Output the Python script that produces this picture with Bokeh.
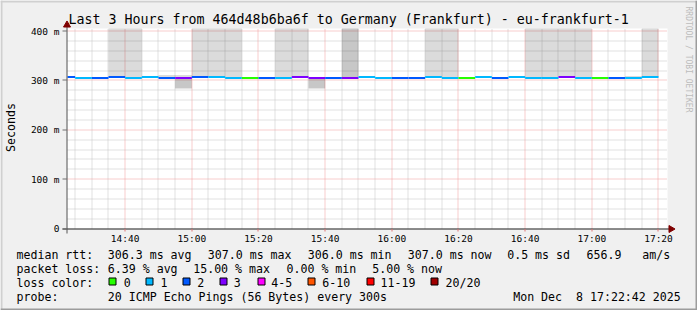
import math
from bokeh.plotting import figure
from bokeh.models import Range1d, ColumnDataSource
from bokeh.core.properties import value
from bokeh.embed import file_html
from bokeh.resources import INLINE

# ---------------- data ----------------
TITLE = "Last 3 Hours from 464d48b6ba6f to Germany (Frankfurt) - eu-frankfurt-1"
START = "14:22:42"
END = "17:22:42"
STEP_MIN = 5
seg_end = ["14:25", "14:30", "14:35", "14:40", "14:45", "14:50", "14:55", "15:00",
           "15:05", "15:10", "15:15", "15:20", "15:25", "15:30", "15:35", "15:40",
           "15:45", "15:50", "15:55", "16:00", "16:05", "16:10", "16:15", "16:20",
           "16:25", "16:30", "16:35", "16:40", "16:45", "16:50", "16:55", "17:00",
           "17:05", "17:10", "17:15", "17:20"]
median_ms = [307, 305, 305, 307, 305, 307, 305, 305, 307, 307, 305, 305,
             305, 305, 307, 305, 305, 305, 307, 305, 305, 305, 307, 305,
             305, 307, 305, 307, 305, 305, 307, 305, 305, 305, 305, 307]
loss_count = [2, 1, 2, 2, 1, 1, 2, 3, 2, 1, 1, 0,
              2, 1, 3, 3, 2, 3, 1, 1, 2, 2, 1, 1,
              0, 1, 2, 1, 1, 1, 3, 1, 0, 2, 1, 1]
# upper smoke (max ping), None = no smoke above the median
smoke_top = [None, None, None, 420, 420, None, 311, 311, 420, 420, 420, None,
             None, 420, 420, None, None, 420, None, None, None, None, 420, 420,
             None, None, None, None, 420, 420, 420, 420, None, None, 309, 420]
smoke_top_dark = [False] * 17 + [True] + [False] * 18
# lower smoke (min ping), None = no smoke below the median
smoke_bottom = [None] * 7 + [284] + [None] * 7 + [284] + [None] * 20

x_ticks = ["14:40", "15:00", "15:20", "15:40", "16:00", "16:20", "16:40", "17:00", "17:20"]
y_ticks = [0, 100, 200, 300, 400]
y_tick_labels = ["0", "100 m", "200 m", "300 m", "400 m"]
Y_LABEL = "Seconds"

loss_colors = ["#26ff00", "#00b8ff", "#0059ff", "#7e00ff", "#ff00ff", "#ff5500", "#ff0000", "#a00000"]
loss_labels = ["0", "1", "2", "3", "4-5", "6-10", "11-19", "20/20"]
loss_color_of_count = {0: 0, 1: 1, 2: 2, 3: 3, 4: 4, 5: 4}

rtt_stats = ["median rtt:", "306.3 ms avg", "307.0 ms max", "306.0 ms min",
             "307.0 ms now", "0.5 ms sd", "656.9", "am/s"]
loss_stats = ["packet loss:", "6.39 % avg", "15.00 % max", "0.00 % min", "5.00 % now"]
LOSS_COLOR_HEAD = "loss color:"
probe_text = ["probe:", "20 ICMP Echo Pings (56 Bytes) every 300s"]
DATE_PARTS = ["Mon Dec", "8 17:22:42 2025"]   # "Mon Dec  8 17:22:42 2025"
WATERMARK = "RRDTOOL / TOBI OETIKER"


def hm(s):
    parts = [float(v) for v in s.split(":")]
    m = parts[0] * 60 + parts[1]
    if len(parts) > 2:
        m += parts[2] / 60.0
    return m

# ---------------- layout / style ----------------
FONT = "DejaVu Sans Mono"
W, H = 697, 310
PX_L, PX_R, PX_T, PX_B = 67, 667, 28, 228      # graph area in canvas pixels
YMAX = 405.4
t0, t1 = hm(START), hm(END)
SX = (t1 - t0) / (PX_R - PX_L)
SY = YMAX / (PX_B - PX_T)


def X(px):   # canvas pixel -> x data (layout helper)
    return t0 + (px - PX_L) * SX


def Y(py):   # canvas pixel -> y data (layout helper)
    return (PX_B - py) * SY


def crisp_x(t):  # snap a vertical 1px line to a pixel centre
    return X(math.floor(PX_L + (t - t0) / SX) + 0.5)


def crisp_y(v):  # snap a horizontal 1px line to a pixel centre
    return Y(math.floor(PX_B - v / SY) + 0.5)


p = figure(width=W, height=H, output_backend="svg", toolbar_location=None,
           x_range=Range1d(X(0), X(W)), y_range=Range1d(Y(H), Y(0)),
           x_axis_location=None, y_axis_location=None,
           min_border=0, min_border_left=0, min_border_right=0,
           min_border_top=0, min_border_bottom=0,
           background_fill_color="#f0f0f0", border_fill_color="#f0f0f0",
           outline_line_color=None)
for g in p.grid:
    g.visible = False

# image frame (3D shade)
p.quad(left=[X(0), X(0)], right=[X(W), X(2)], top=[Y(0), Y(0)], bottom=[Y(2), Y(H)],
       fill_color="#d0d0d0", line_color=None)
p.quad(left=[X(0), X(W - 2)], right=[X(W), X(W)], top=[Y(H - 2), Y(0)], bottom=[Y(H), Y(H)],
       fill_color="#9c9c9c", line_color=None)

# white graph canvas
p.quad(left=[t0], right=[t1], bottom=[0], top=[YMAX], fill_color="#ffffff", line_color=None)

# grid (dotted)
xt = [hm(s) for s in x_ticks]
x_minor = []
k = xt[0]
while k - 5 > t0:
    k -= 5
while k < t1:
    if all(abs(k - v) > 1e-6 for v in xt):
        x_minor.append(k)
    k += 5
y_minor = [v for v in range(0, 401, 20) if v % 100 != 0]
GRID_MINOR = "#c2c2c2"
GRID_MAJOR = "#f09a9a"
xm = [crisp_x(v) for v in x_minor]
p.segment(x0=xm, x1=xm, y0=[0] * len(xm), y1=[YMAX] * len(xm),
          line_color=GRID_MINOR, line_dash="1 1", line_width=1)
ym = [crisp_y(v) for v in y_minor]
p.segment(x0=[t0] * len(ym), x1=[t1] * len(ym), y0=ym, y1=ym,
          line_color=GRID_MINOR, line_dash="1 1", line_width=1)
xM = [crisp_x(v) for v in xt if v < t1]
p.segment(x0=xM, x1=xM, y0=[0] * len(xM), y1=[YMAX] * len(xM),
          line_color=GRID_MAJOR, line_dash="1 1", line_width=1)
yM = [crisp_y(v) for v in y_ticks if v > 0]
p.segment(x0=[t0] * len(yM), x1=[t1] * len(yM), y0=yM, y1=yM,
          line_color=GRID_MAJOR, line_dash="1 1", line_width=1)

# segments
ends = [hm(s) for s in seg_end]
lefts = [max(t0, e - STEP_MIN) for e in ends]

# smoke
up = dict(l=[], r=[], b=[], t=[], a=[])
for l, r, m, top, dark in zip(lefts, ends, median_ms, smoke_top, smoke_top_dark):
    if top is not None:
        up["l"].append(l); up["r"].append(r); up["b"].append(m)
        up["t"].append(min(top, YMAX))
        up["a"].append(0.22 if dark else 0.14)
p.quad(left="l", right="r", bottom="b", top="t", fill_color="#000000",
       fill_alpha="a", line_color=None, source=ColumnDataSource(up))
dn = dict(l=[], r=[], b=[], t=[])
for l, r, m, bot in zip(lefts, ends, median_ms, smoke_bottom):
    if bot is not None:
        dn["l"].append(l); dn["r"].append(r); dn["b"].append(bot); dn["t"].append(m)
p.quad(left="l", right="r", bottom="b", top="t", fill_color="#000000",
       fill_alpha=0.22, line_color=None, source=ColumnDataSource(dn))

# median line, coloured by loss (2 px thick)
med = ColumnDataSource(dict(
    l=lefts, r=ends,
    b=[m - SY for m in median_ms], t=[m + SY for m in median_ms],
    c=[loss_colors[loss_color_of_count[n]] for n in loss_count]))
p.quad(left="l", right="r", bottom="b", top="t", fill_color="c", line_color=None, source=med)

# axes lines, ticks, arrows
p.segment(x0=[X(62)], x1=[X(670)], y0=[Y(228.5)], y1=[Y(228.5)], line_color="#202020", line_width=1)
p.segment(x0=[X(66.5)], x1=[X(66.5)], y0=[Y(233)], y1=[Y(25)], line_color="#555555", line_width=1)
yt = [crisp_y(v) for v in y_ticks]
p.segment(x0=[X(62)] * len(yt), x1=[X(66.5)] * len(yt), y0=yt, y1=yt,
          line_color="#707070", line_width=1)
xtc = [crisp_x(v) for v in xt]
p.segment(x0=xtc, x1=xtc, y0=[Y(228.5)] * len(xtc), y1=[Y(231)] * len(xtc),
          line_color="#e07070", line_width=1)
p.scatter(x=[X(66.5)], y=[Y(24.5)], marker="triangle", size=7,
          fill_color="#7f0000", line_color="#7f0000")
p.scatter(x=[X(670.5)], y=[Y(228.5)], marker="triangle", size=7, angle=-math.pi / 2,
          fill_color="#7f0000", line_color="#7f0000")

# tick labels
p.text(x=xt, y=[Y(238)] * len(xt), text=x_ticks, text_font=value(FONT),
       text_font_size=value("9.5px"), text_align="center", text_baseline="middle",
       text_color="#000000")
p.text(x=[X(59)] * len(y_ticks), y=y_ticks, text=y_tick_labels, text_font=value(FONT),
       text_font_size=value("9.5px"), text_align="right", text_baseline="middle",
       text_color="#000000")

# title, axis label, watermark
p.text(x=[X(68)], y=[Y(19)], text=[TITLE], text_font=value(FONT),
       text_font_size=value("13.3px"), text_align="left", text_baseline="middle",
       text_color="#000000")
p.text(x=[X(10)], y=[Y(127)], text=[Y_LABEL], angle=math.pi / 2, text_font=value(FONT),
       text_font_size=value("11.6px"), text_align="center", text_baseline="middle",
       text_color="#000000")
p.text(x=[X(688)], y=[Y(59)], text=[WATERMARK], angle=-math.pi / 2, text_font=value(FONT),
       text_font_size=value("8px"), text_align="center", text_baseline="middle",
       text_color="#bcbcbc")

# legend / statistics rows
rows_text, rows_x, rows_y = [], [], []
for t, px in zip(rtt_stats, [16, 107.3, 207.3, 307.3, 407.3, 506.7, 586, 641.7]):
    rows_text.append(t); rows_x.append(X(px)); rows_y.append(Y(254))
for t, px in zip(loss_stats, [16, 107.3, 192.7, 286, 371.7]):
    rows_text.append(t); rows_x.append(X(px)); rows_y.append(Y(268))
rows_text.append(LOSS_COLOR_HEAD); rows_x.append(X(16)); rows_y.append(Y(282))
for t, px in zip(loss_labels, [123.3, 160, 196.7, 233.3, 270.7, 321.7, 380, 445]):
    rows_text.append(t); rows_x.append(X(px)); rows_y.append(Y(282))
for t, px in zip(probe_text, [16, 107.3]):
    rows_text.append(t); rows_x.append(X(px)); rows_y.append(Y(296))
for t, px in zip(DATE_PARTS, [512.7, 575.5]):
    rows_text.append(t); rows_x.append(X(px)); rows_y.append(Y(296))
p.text(x=rows_x, y=rows_y, text=rows_text, text_font=value(FONT),
       text_font_size=value("11.6px"), text_align="left", text_baseline="middle",
       text_color="#000000")

# loss colour swatches
sw_x = [108, 145, 182, 219, 257, 307, 366, 430]
p.quad(left=[X(v + 0.5) for v in sw_x], right=[X(v + 7.5) for v in sw_x],
       top=[Y(277.5)] * len(sw_x), bottom=[Y(284.5)] * len(sw_x),
       fill_color=loss_colors, line_color="#000000", line_width=1)

open("out.html", "w").write(file_html(p, INLINE))
